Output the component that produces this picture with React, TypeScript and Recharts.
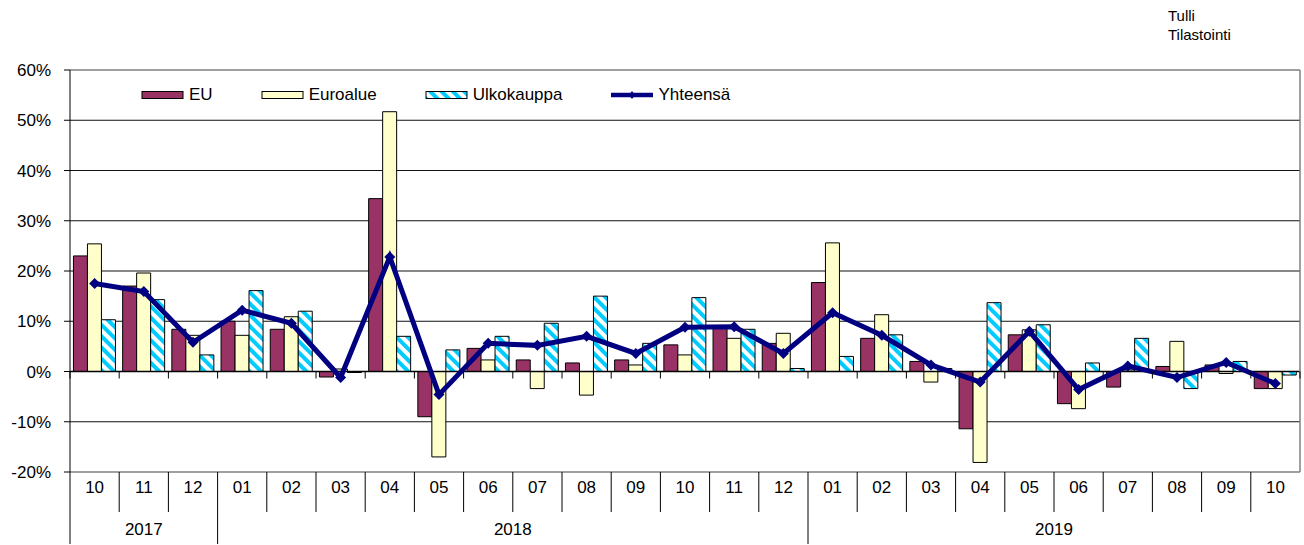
import {
  ComposedChart,
  Bar,
  Line,
  XAxis,
  YAxis,
  CartesianGrid,
  ReferenceLine,
} from "recharts";

const W = 1304;
const H = 545;
const PLOT_L = 70;
const PLOT_R = 1300;
const PLOT_T = 70;
const PLOT_B = 472;
const FONT = "'Liberation Sans', Arial, sans-serif";

const months = [
  "10", "11", "12",
  "01", "02", "03", "04", "05", "06", "07", "08", "09", "10", "11", "12",
  "01", "02", "03", "04", "05", "06", "07", "08", "09", "10",
];
const years = [
  "2017", "2017", "2017",
  "2018", "2018", "2018", "2018", "2018", "2018", "2018", "2018", "2018", "2018", "2018", "2018",
  "2019", "2019", "2019", "2019", "2019", "2019", "2019", "2019", "2019", "2019",
];

// muutos-% edellisen vuoden vastaavasta kuukaudesta
const eu = [23.0, 17.0, 8.4, 10.0, 8.4, -1.1, 34.4, -9.0, 4.6, 2.3, 1.7, 2.3, 5.3, 8.9, 5.6, 17.7, 6.6, 2.0, -11.4, 7.3, -6.4, -3.1, 1.0, 1.3, -3.4];
const euroalue = [25.4, 19.6, 7.2, 7.2, 10.9, 0.5, 51.7, -17.0, 2.3, -3.4, -4.7, 1.3, 3.3, 6.6, 7.6, 25.6, 11.3, -2.1, -18.1, 8.3, -7.4, 0.3, 6.0, -0.4, -3.4];
const ulkokauppa = [10.3, 14.3, 3.3, 16.1, 12.0, -0.2, 7.0, 4.3, 7.0, 9.6, 15.0, 5.6, 14.7, 8.4, 0.6, 3.0, 7.3, 0.6, 13.7, 9.3, 1.7, 6.6, -3.4, 2.0, -0.7];
const yhteensa = [17.5, 15.9, 5.8, 12.2, 9.6, -1.2, 22.8, -4.6, 5.6, 5.2, 7.0, 3.6, 8.8, 8.9, 3.6, 11.7, 7.2, 1.3, -2.1, 8.0, -3.6, 1.1, -1.2, 1.8, -2.4];

const yTicks = [-20, -10, 0, 10, 20, 30, 40, 50, 60];

const data = months.map((m, i) => ({
  month: m,
  eu: eu[i],
  euroalue: euroalue[i],
  ulkokauppa: ulkokauppa[i],
  yhteensa: yhteensa[i],
}));

const BAND = (PLOT_R - PLOT_L) / data.length;
const ZERO_Y = PLOT_T + ((60 - 0) / 80) * (PLOT_B - PLOT_T);

const EU_COLOR = "#993366";
const EURO_COLOR = "#FFFFCC";
const LINE_COLOR = "#000080";
const STRIPE = "#00CCFF";

function Stripes({ id }: { id: string }) {
  return (
    <pattern id={id} patternUnits="userSpaceOnUse" width={8} height={8} patternTransform="rotate(-45)">
      <rect width={8} height={8} fill="#fff" />
      <rect width={4} height={8} fill={STRIPE} />
    </pattern>
  );
}

function Diamond(props: any) {
  const { cx, cy } = props;
  if (cx == null || cy == null) return null;
  const r = 5.5;
  return (
    <path
      d={`M${cx},${cy - r}L${cx + r},${cy}L${cx},${cy + r}L${cx - r},${cy}Z`}
      fill={LINE_COLOR}
    />
  );
}

function MonthTick(props: any) {
  const { x, payload } = props;
  const i: number = payload?.index ?? props.index ?? 0;
  const left = x - BAND / 2;
  const yearStart = i === 0 || years[i] !== years[i - 1];
  let yearLabel = null;
  if (yearStart) {
    let end = i;
    while (end + 1 < years.length && years[end + 1] === years[i]) end++;
    const cx = left + ((end - i + 1) * BAND) / 2;
    yearLabel = (
      <text x={cx} y={PLOT_B + 63} textAnchor="middle" fontSize={17} fill="#000" fontFamily={FONT}>
        {years[i]}
      </text>
    );
  }
  return (
    <g>
      <line x1={left} x2={left} y1={PLOT_B} y2={yearStart ? H - 1 : PLOT_B + 40} stroke="#000" />
      <line x1={left} x2={left} y1={ZERO_Y} y2={ZERO_Y + 7} stroke="#000" />
      {i === months.length - 1 && (
        <line x1={left + BAND} x2={left + BAND} y1={ZERO_Y} y2={ZERO_Y + 7} stroke="#000" />
      )}
      <text x={x} y={PLOT_B + 21} textAnchor="middle" fontSize={17} fill="#000" fontFamily={FONT}>
        {months[i]}
      </text>
      {yearLabel}
    </g>
  );
}

const legendItems = [
  { name: "EU", kind: "bar", fill: EU_COLOR },
  { name: "Euroalue", kind: "bar", fill: EURO_COLOR },
  { name: "Ulkokauppa", kind: "bar", fill: "url(#legendStripes)" },
  { name: "Yhteensä", kind: "line", fill: LINE_COLOR },
];

function LegendBox() {
  return (
    <div
      style={{
        position: "absolute",
        left: 141,
        top: 85,
        display: "flex",
        alignItems: "center",
        fontFamily: FONT,
        fontSize: 17,
        color: "#000",
        lineHeight: "20px",
      }}
    >
      {legendItems.map((it) => (
        <div key={it.name} style={{ display: "flex", alignItems: "center", marginRight: 48 }}>
          <svg width={44} height={12} style={{ marginRight: 4 }}>
            <defs>
              <Stripes id="legendStripes" />
            </defs>
            {it.kind === "bar" ? (
              <rect x={1} y={2.5} width={41} height={7} fill={it.fill} stroke="#000" strokeWidth={1} />
            ) : (
              <g>
                <line x1={1} x2={43} y1={6} y2={6} stroke={LINE_COLOR} strokeWidth={4.5} />
                <path d="M22,2L25,6L22,10L19,6Z" fill={LINE_COLOR} />
              </g>
            )}
          </svg>
          <span>{it.name}</span>
        </div>
      ))}
    </div>
  );
}

export default function App() {
  return (
    <div style={{ position: "absolute", left: 0, top: 0, width: W, height: H, background: "#fff" }}>
      <div
        style={{
          position: "absolute",
          left: 1168,
          top: 6,
          fontFamily: FONT,
          fontSize: 15,
          lineHeight: "19px",
          color: "#000",
        }}
      >
        Tulli
        <br />
        Tilastointi
      </div>
      <ComposedChart
        width={W}
        height={H}
        data={data}
        margin={{ top: PLOT_T, right: 0, bottom: 0, left: 0 }}
        barCategoryGap="7%"
        barGap={0}
      >
        <defs>
          <Stripes id="ulkoStripes" />
        </defs>
        <CartesianGrid
          vertical={false}
          stroke="#111"
          horizontalValues={[-10, 0, 10, 20, 30, 40, 50]}
        />
        <XAxis
          dataKey="month"
          height={H - PLOT_B}
          interval={0}
          tickLine={false}
          axisLine={{ stroke: "#808080", strokeWidth: 1.5 }}
          tick={<MonthTick />}
        />
        <YAxis
          domain={[-20, 60]}
          ticks={yTicks}
          interval={0}
          width={PLOT_L}
          tickFormatter={(v: number) => `${v}%`}
          tick={{ fontSize: 17, fill: "#000", fontFamily: FONT }}
          tickSize={6}
          tickMargin={13}
          axisLine={{ stroke: "#000" }}
          tickLine={{ stroke: "#000" }}
        />
        <YAxis
          yAxisId="border"
          orientation="right"
          width={W - PLOT_R}
          domain={[0, 1]}
          tick={false}
          tickLine={false}
          axisLine={{ stroke: "#808080", strokeWidth: 1.5 }}
        />
        <ReferenceLine y={60} stroke="#808080" strokeWidth={1.5} />
        <Bar dataKey="eu" name="EU" fill={EU_COLOR} stroke="#000" strokeWidth={1} isAnimationActive={false} />
        <Bar dataKey="euroalue" name="Euroalue" fill={EURO_COLOR} stroke="#000" strokeWidth={1} isAnimationActive={false} />
        <Bar dataKey="ulkokauppa" name="Ulkokauppa" fill="url(#ulkoStripes)" stroke="#000" strokeWidth={1} isAnimationActive={false} />
        <ReferenceLine y={0} stroke="#000" strokeWidth={1.5} />
        <Line
          dataKey="yhteensa"
          name="Yhteensä"
          type="linear"
          stroke={LINE_COLOR}
          strokeWidth={5}
          dot={<Diamond />}
          activeDot={false}
          isAnimationActive={false}
        />
      </ComposedChart>
      <LegendBox />
    </div>
  );
}
